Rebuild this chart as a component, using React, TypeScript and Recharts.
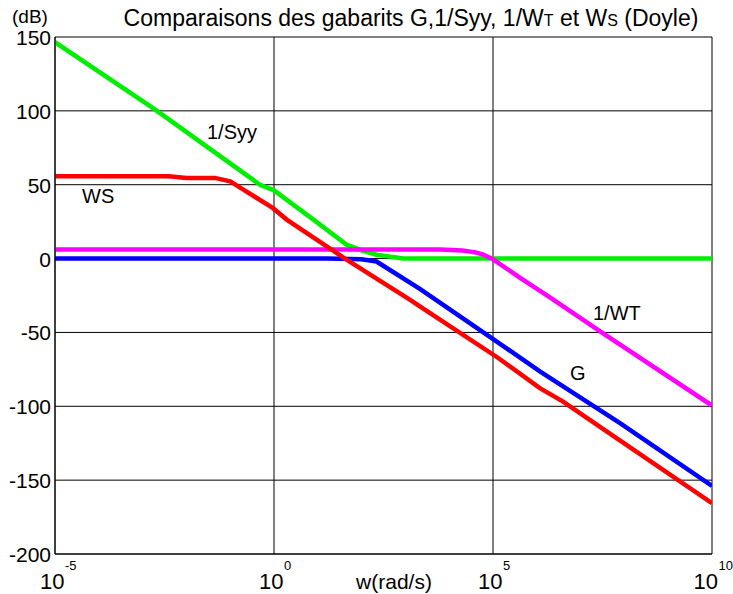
import React from 'react';
import { LineChart, Line, XAxis, YAxis, CartesianGrid } from 'recharts';

// x values are log10(w)
const xTicks = [-5, 0, 5, 10];
const yTicks = [-200, -150, -100, -50, 0, 50, 100, 150];

const syyX = [-5, -2.72, -0.32, 0, 0.9, 1.66, 2.0, 2.34, 2.95, 10];
const syyY = [146.5, 101, 50, 46.2, 26.4, 9.4, 5.5, 2.6, 0, 0];

const wsX = [-5, -2.4, -2.0, -1.35, -1.0, -0.7, -0.03, 0.29, 1.62, 3.1, 3.33, 5.12, 6.07, 6.6, 7.82, 10];
const wsY = [55.7, 55.7, 54.6, 54.6, 52.3, 46.7, 34.3, 26.4, 0, -27.8, -32.4, -67.3, -87.7, -96.8, -121.5, -165.6];

const gX = [-5, 1.2, 2.0, 2.34, 3.33, 4.97, 6.07, 7.9, 10];
const gY = [0, 0, -0.5, -2, -20.5, -53.8, -76.4, -111.4, -153.9];

const wtX = [-5, 3.8, 4.3, 4.6, 4.78, 5.0, 5.62, 6.3, 7.48, 10];
const wtY = [6.2, 6.2, 5.4, 4.2, 2.7, -0.5, -13, -26.3, -50, -99.5];

const toPts = (xs: number[], ys: number[]) => xs.map((x, i) => ({ x, y: ys[i] }));

const FONT = '"Liberation Sans", Arial, sans-serif';

const XTick = (props: any) => {
  const { x, payload } = props;
  const shift = payload.value === 10 ? -3.5 : 0;
  return (
    <g fontFamily={FONT} fill="#000">
      <text x={x + 9.5 + shift} y={589} textAnchor="end" fontSize={22} fill="#000">10</text>
      <text x={x + 10 + shift} y={570} textAnchor="start" fontSize={13} fill="#000">{String(payload.value)}</text>
    </g>
  );
};

const YTick = (props: any) => {
  const { y, payload } = props;
  return (
    <text x={51} y={y + 8} textAnchor="end" fontSize={21} fontFamily={FONT} fill="#000">
      {String(payload.value)}
    </text>
  );
};

export default function App() {
  return (
    <div style={{ position: 'absolute', left: 0, top: 0, background: '#fff' }}>
      <LineChart width={733} height={594} margin={{ top: 37, right: 21, bottom: 0, left: 0 }}>
        <CartesianGrid stroke="#000" strokeWidth={1} strokeDasharray="" />
        <XAxis
          type="number"
          dataKey="x"
          domain={[-5, 10]}
          ticks={xTicks}
          interval={0}
          height={40}
          allowDataOverflow
          axisLine={{ stroke: '#000' }}
          tickLine={false}
          tick={<XTick />}
        />
        <YAxis
          type="number"
          domain={[-200, 150]}
          ticks={yTicks}
          interval={0}
          width={55}
          allowDataOverflow
          axisLine={{ stroke: '#000' }}
          tickLine={false}
          tick={<YTick />}
        />
        <Line data={toPts(syyX, syyY)} dataKey="y" type="linear" stroke="#00ee00" strokeWidth={4.5} dot={false} isAnimationActive={false} />
        <Line data={toPts(wtX, wtY)} dataKey="y" type="linear" stroke="#ff00ff" strokeWidth={4.5} dot={false} isAnimationActive={false} />
        <Line data={toPts(gX, gY)} dataKey="y" type="linear" stroke="#0000ff" strokeWidth={4.5} dot={false} isAnimationActive={false} />
        <Line data={toPts(wsX, wsY)} dataKey="y" type="linear" stroke="#ff0000" strokeWidth={4.5} dot={false} isAnimationActive={false} />
        <text x={12} y={23} fontSize={19} fontFamily={FONT} fill="#000">(dB)</text>
        <text x={411} y={26} textAnchor="middle" fontSize={23} fontFamily={FONT} fill="#000">
          Comparaisons des gabarits G,1/Syy, 1/W<tspan fontSize={16}>T</tspan> et W<tspan fontSize={16}>S</tspan> (Doyle)
        </text>
        <text x={394} y={589} textAnchor="middle" fontSize={21} fontFamily={FONT} fill="#000">w(rad/s)</text>
        <text x={207} y={139} fontSize={20} fontFamily={FONT} fill="#000">1/Syy</text>
        <text x={82} y={203} fontSize={20} fontFamily={FONT} fill="#000">WS</text>
        <text x={593} y={320} fontSize={20} fontFamily={FONT} fill="#000">1/WT</text>
        <text x={570} y={380} fontSize={20} fontFamily={FONT} fill="#000">G</text>
      </LineChart>
    </div>
  );
}
